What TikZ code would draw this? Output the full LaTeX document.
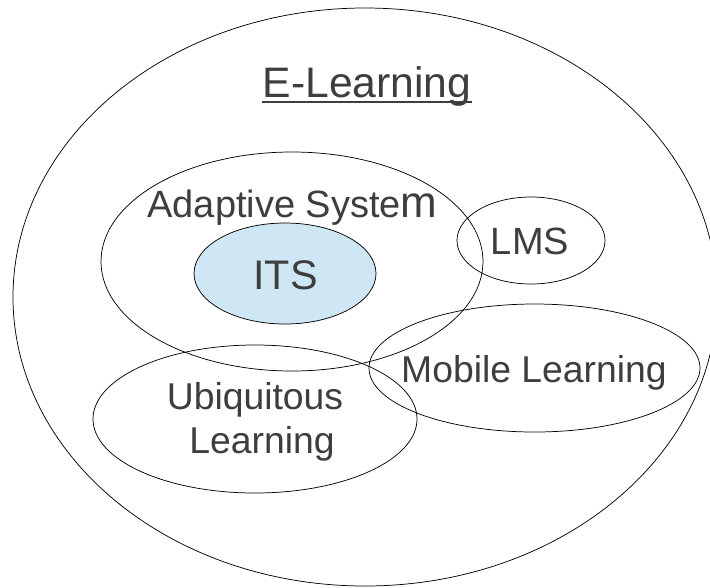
\documentclass[tikz,border=0pt]{standalone}
\usepackage{fontspec}
\setmainfont{Liberation Sans}
\usetikzlibrary{shapes.geometric}

\definecolor{inkgray}{RGB}{62,62,62}
\definecolor{itsblue}{RGB}{207,231,245}

\tikzset{
  set/.style={ellipse, draw=black, line width=0.55pt, inner sep=0pt},
  lbl/.style={anchor=base, inner sep=0pt, text=inkgray,
              font=\fontsize{28}{32}\selectfont},
}

\begin{document}
\begin{tikzpicture}[x=0.75pt, y=-0.75pt]
  \useasboundingbox (0,0) rectangle (710,587);
  \fill[white] (0,0) rectangle (710,587);

  % sets
  \node[set, minimum width=528pt, minimum height=433.5pt] (elearning) at (365,297) {};
  \node[set, minimum width=286.5pt, minimum height=164.25pt] (adaptive) at (292,261.5) {};
  \node[set, fill=itsblue, minimum width=136.5pt, minimum height=75.75pt] (its) at (285,273.5) {};
  \node[set, minimum width=111pt, minimum height=65.25pt] (lms) at (531,240.5) {};
  \node[set, minimum width=248.25pt, minimum height=96pt] (mobile) at (534.5,368) {};
  \node[set, minimum width=243pt, minimum height=111pt] (ubiq) at (255,419) {};

  % labels
  \node[lbl, font=\fontsize{32}{36}\selectfont] (elabel) at (367,97) {E-Learning};
  \draw[inkgray, line width=1.4pt] ([yshift=-4pt]elabel.base west) -- ([yshift=-4pt]elabel.base east);
  \node[lbl, font=\fontsize{28.5}{32}\selectfont] (alabel) at (292.5,217) {Adaptive Syste{\fontsize{33}{36}\selectfont m}};
  \node[lbl, font=\fontsize{31}{36}\selectfont] (itslabel) at (285.5,289) {ITS};
  \node[lbl, font=\fontsize{28.5}{32}\selectfont] (lmslabel) at (530,254) {LMS};
  \node[lbl] (mlabel) at (534,382) {Mobile Learning};
  \node[lbl] (ulabel1) at (255,409) {Ubiquitous};
  \node[lbl] (ulabel2) at (262,453) {Learning};
\end{tikzpicture}
\end{document}
